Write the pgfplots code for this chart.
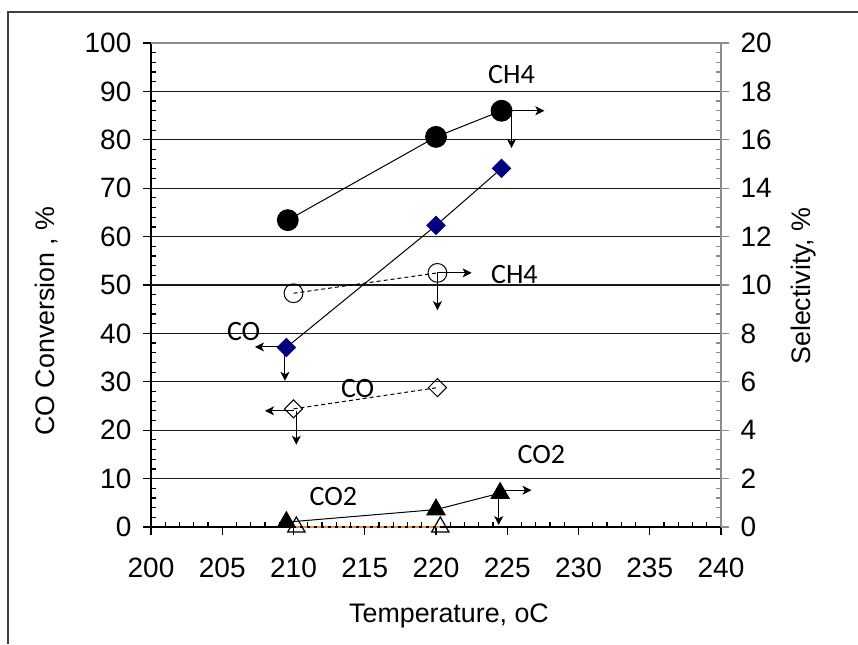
\documentclass[border=0pt]{standalone}
\usepackage{fontspec}
\setmainfont{Liberation Sans}
\newfontfamily\calib{Carlito}
\usepackage{pgfplots}
\pgfplotsset{compat=1.18}
\usetikzlibrary{arrows.meta}

\definecolor{navy}{RGB}{0,0,128}
\definecolor{orng}{RGB}{230,140,60}
\definecolor{framec}{RGB}{64,64,64}
\definecolor{axgray}{RGB}{140,140,140}

\pgfplotsset{
  base/.style={
    scale only axis, width=285pt, height=242pt,
    at={(75.5pt,58.5pt)}, anchor=south west,
    xmin=200, xmax=240,
    tick align=inside,
    major tick length=-4pt, minor tick length=2.5pt,
    /pgf/number format/assume math mode=true,
    tick label style={font=\fontsize{14}{16}\selectfont},
    clip=false,
  },
}
\tikzset{
  note/.style={font=\calib\fontsize{14}{16}\selectfont},
  lbl/.style={font=\fontsize{13.4}{16}\selectfont},
  arr/.style={-{Stealth[length=4.5pt,width=4.5pt,inset=1.2pt]}, line width=0.5pt},
}

\begin{document}
\begin{tikzpicture}
\useasboundingbox (0,0) rectangle (429pt,322pt);
\draw[framec, line width=1pt] (4pt,0) -- (4pt,316pt) -- (429pt,316pt);

% left axis: CO conversion
\begin{axis}[base,
  axis x line*=bottom, axis y line*=left,
  x axis line style={black,line width=1pt,-},
  y axis line style={black,line width=0.8pt,-},
  ymin=0, ymax=100, ytick={0,10,...,100}, minor y tick num=4,
  xtick={200,205,...,240}, minor x tick num=4,
  ymajorgrids, major grid style={black!90,line width=0.6pt},
  every tick/.style={black,line width=0.6pt},
  xticklabel style={yshift=-11.8pt},
  yticklabel style={xshift=-6.3pt},
]
\addplot[black, line width=0.5pt, mark=square*, mark size=3.2pt,
  mark options={fill=navy, draw=navy, rotate=45}]
  coordinates {(209.5,37.1) (220.0,62.3) (224.6,74.1)};
\addplot[black, line width=0.5pt, dash pattern=on 2pt off 1.5pt, mark=square, mark size=3.2pt,
  mark options={fill=white, draw=black, solid, rotate=45}]
  coordinates {(210.0,24.4) (220.1,28.8)};

% arrows and notes
\draw[arr] (axis cs:224.6,86) -- (axis cs:227.6,86);
\draw[arr] (axis cs:225.3,86) -- (axis cs:225.3,78.3);
\draw[arr] (axis cs:220.1,52.5) -- (axis cs:222.5,52.5);
\draw[arr] (axis cs:220.1,52.5) -- (axis cs:220.1,44.8);
\draw[arr] (axis cs:209.5,37.2) -- (axis cs:207.3,37.2);
\draw[arr] (axis cs:209.4,37.2) -- (axis cs:209.4,30.2);
\draw[arr] (axis cs:210.0,24.0) -- (axis cs:208.0,24.0);
\draw[arr] (axis cs:210.2,24.0) -- (axis cs:210.2,17.0);
\draw[arr] (axis cs:224.5,7.6) -- (axis cs:226.7,7.6);
\draw[arr] (axis cs:224.4,7.6) -- (axis cs:224.4,0.4);
\node[note] at (axis cs:225.3,93.4) {CH4};
\node[note] at (axis cs:225.5,52.1) {CH4};
\node[note] at (axis cs:206.5,40.3) {CO};
\node[note] at (axis cs:214.5,28.7) {CO};
\node[note] at (axis cs:212.8,6.4) {CO2};
\node[note] at (axis cs:227.4,14.9) {CO2};
\end{axis}

% right axis: selectivity
\begin{axis}[base,
  axis x line=none, axis y line*=right,
  y axis line style={axgray,line width=0.8pt,-},
  ymin=0, ymax=20, ytick={0,2,...,20}, minor y tick num=4,
  every tick/.style={axgray,line width=0.6pt},
  yticklabel style={xshift=6.3pt},
]
\draw[axgray, line width=0.8pt] (axis cs:200,20) -- (axis cs:240,20);
\addplot[orng, line width=0.6pt, dash pattern=on 2pt off 1.5pt, mark=triangle, mark size=5pt,
  mark options={fill=white, draw=black, solid}]
  coordinates {(210.2,0) (220.3,0)};
\addplot[black, line width=0.5pt, mark=*, mark size=5.2pt,
  mark options={fill=black}]
  coordinates {(209.6,12.68) (220.0,16.12) (224.6,17.2)};
\addplot[black, line width=0.5pt, dash pattern=on 2pt off 1.5pt, mark=o, mark size=4.7pt,
  mark options={fill=white, draw=black, solid}]
  coordinates {(210.0,9.66) (220.1,10.5)};
\addplot[black, line width=0.5pt, mark=triangle*, mark size=5.2pt,
  mark options={fill=black}]
  coordinates {(209.5,0.2) (220.0,0.72) (224.5,1.4)};
\end{axis}

\node[lbl, rotate=90] at (23.5pt,161.5pt) {CO Conversion , \%};
\node[lbl, rotate=90] at (402pt,179pt) {Selectivity, \%};
\node[lbl] at (224.5pt,14pt) {Temperature, oC};
\end{tikzpicture}
\end{document}
